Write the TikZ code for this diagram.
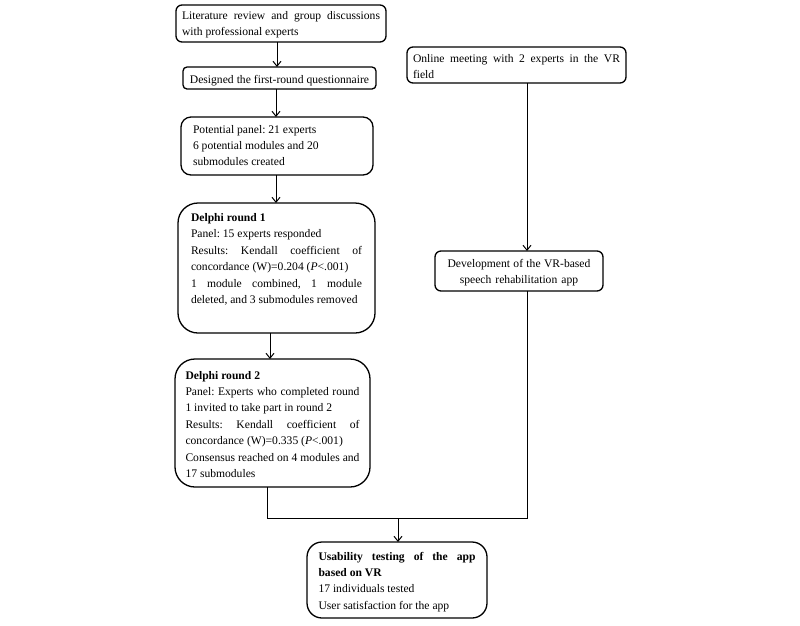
\documentclass[tikz,border=0pt]{standalone}
\usepackage{fontspec}
\setmainfont{Liberation Serif}
\usetikzlibrary{arrows.meta}
\newcommand{\jl}[1]{\leavevmode\hbox to \hsize{\spaceskip=0pt\xspaceskip=0pt\relax#1}}
\begin{document}
\begin{tikzpicture}[x=1pt,y=-1pt,
  box/.style={draw, line width=1.3pt, anchor=north west, inner ysep=0pt, outer sep=0pt,
    font=\fontsize{11.6}{16.4}\selectfont\frenchspacing, align=justify,
    execute at begin node={\spaceskip=0pt\xspaceskip=0pt\relax}},
  arr/.style={line width=1pt, -{Straight Barb[length=5pt,width=8pt]}},
  conn/.style={line width=1pt}]
\useasboundingbox (0,0) rectangle (800,625);

\node[box, rounded corners=6pt, inner xsep=6pt, text width=198pt, text height=14pt, text depth=23pt] (b1) at (176,5)
  {\jl{Literature review and group discussions}\\ with professional experts};
\node[box, rounded corners=4pt, inner xsep=5pt, text width=183pt, align=center, text height=16pt, text depth=6pt] (b2) at (183,67)
  {Designed the first-round questionnaire};
\node[box, rounded corners=10pt, inner xsep=12pt, text width=168pt, text height=16pt, text depth=42pt] (b3) at (181,117)
  {Potential panel: 21 experts\\ 6 potential modules and 20\\ submodules created};
\node[box, rounded corners=20pt, inner xsep=13pt, text width=171pt, text height=18.5pt, text depth=111.5pt] (b4) at (178,203)
  {\textbf{Delphi round 1}\\ Panel: 15 experts responded\\ \jl{Results: Kendall coefficient of}\\ concordance (W)=0.204 (\textit{P}<.001)\\ \jl{1 module combined, 1 module}\\ deleted, and 3 submodules removed};
\node[box, rounded corners=20pt, inner xsep=10.5pt, text width=174pt, text height=20pt, text depth=108pt] (b5) at (175,359)
  {\textbf{Delphi round 2}\\ \jl{Panel: Experts who completed round}\\ 1 invited to take part in round 2\\ \jl{Results: Kendall coefficient of}\\ concordance (W)=0.335 (\textit{P}<.001)\\ \jl{Consensus reached on 4 modules and}\\ 17 submodules};
\node[box, rounded corners=15pt, inner xsep=11.5pt, text width=157pt, text height=18pt, text depth=58pt] (b6) at (307,542)
  {\jl{\textbf{Usability testing of the app}}\\ \textbf{based on VR}\\ 17 individuals tested\\ User satisfaction for the app};
\node[box, rounded corners=6pt, inner xsep=6pt, text width=207pt, text height=15pt, text depth=21pt] (on) at (407,47)
  {\jl{Online meeting with 2 experts in the VR}\\ field};
\node[box, rounded corners=6pt, inner xsep=5pt, text width=158pt, align=center, text height=16pt, text depth=24pt] (dev) at (435,251)
  {Development of the VR-based\\ speech rehabilitation app};

\coordinate (xa) at (277,0);
\coordinate (xb) at (276,0);
\coordinate (xc) at (270,0);
\coordinate (xd) at (527,0);
\coordinate (xe) at (267,0);
\coordinate (jy) at (0,518);
\coordinate (xf) at (398,518);

\draw[arr] (xa |- b1.south) -- (xa |- b2.north);
\draw[arr] (xb |- b2.south) -- (xb |- b3.north);
\draw[arr] (xb |- b3.south) -- (xb |- b4.north);
\draw[arr] (xc |- b4.south) -- (xc |- b5.north);
\draw[arr] (xd |- on.south) -- (xd |- dev.north);
\draw[conn] (xe |- b5.south) -- (xe |- jy) -- (xd |- jy) -- (xd |- dev.south);
\draw[arr] (xf) -- (xf |- b6.north);
\end{tikzpicture}
\end{document}
